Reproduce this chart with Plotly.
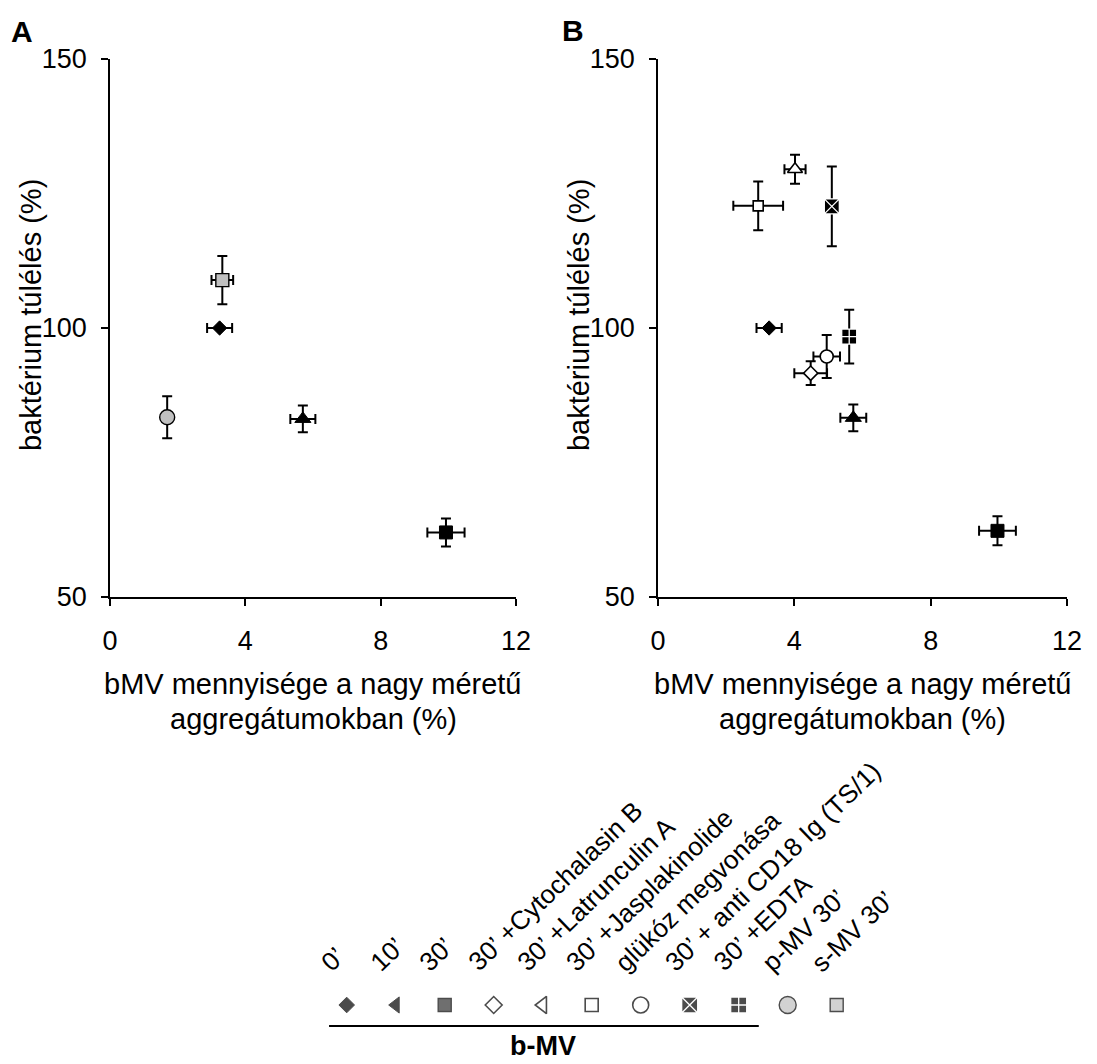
import plotly.graph_objects as go

FONT = "Liberation Sans, Arial, sans-serif"

# ---------------- data ----------------
categories = [
    "0’", "10’", "30’", "30’ +Cytochalasin B", "30’ +Latrunculin A",
    "30’ +Jasplakinolide", "glükóz megvonása", "30’ + anti CD18 Ig (TS/1)",
    "30’ +EDTA", "p-MV 30’", "s-MV 30’",
]
bmv_group = categories[:9]          # items under the "b-MV" bracket

# Panel A
a_names = ["0’", "10’", "30’", "p-MV 30’", "s-MV 30’"]
a_x = [3.24, 5.70, 9.93, 1.69, 3.32]
a_y = [100.0, 83.1, 62.0, 83.4, 108.9]
a_xerr = [0.37, 0.37, 0.55, 0.0, 0.32]
a_yerr = [0.0, 2.5, 2.6, 3.9, 4.5]

# Panel B
b_names = ["0’", "10’", "30’", "30’ +Cytochalasin B", "30’ +Latrunculin A",
           "30’ +Jasplakinolide", "glükóz megvonása", "30’ + anti CD18 Ig (TS/1)",
           "30’ +EDTA"]
b_x = [3.26, 5.73, 9.96, 4.48, 4.02, 2.94, 4.95, 5.10, 5.61]
b_y = [100.0, 83.3, 62.3, 91.6, 129.5, 122.7, 94.7, 122.6, 98.4]
b_xerr = [0.37, 0.38, 0.54, 0.48, 0.31, 0.73, 0.39, 0.0, 0.0]
b_yerr = [0.0, 2.5, 2.7, 2.2, 2.7, 4.55, 4.0, 7.4, 5.0]

x_ticks = [0, 4, 8, 12]
y_ticks = [50, 100, 150]
x_range = [0, 12]
y_range = [50, 150]

y_title = "baktérium túlélés (%)"
x_title_lines = ["bMV mennyisége a nagy méretű", "aggregátumokban (%)"]
group_label = "b-MV"
panel_labels = ["A", "B"]

# ---------------- styles ----------------
GRAY = "#c0c0c0"
chart_style = {
    "0’": dict(symbol="diamond", color="black", line="black", size=11, lw=1),
    "10’": dict(symbol="triangle-up", color="black", line="black", size=14, lw=1),
    "30’": dict(symbol="square", color="black", line="black", size=13, lw=1),
    "30’ +Cytochalasin B": dict(symbol="diamond", color="white", line="black", size=11, lw=1.6),
    "30’ +Latrunculin A": dict(symbol="triangle-up", color="white", line="black", size=13, lw=1.6),
    "30’ +Jasplakinolide": dict(symbol="square", color="white", line="black", size=10, lw=1.6),
    "glükóz megvonása": dict(symbol="circle", color="white", line="black", size=13, lw=1.6),
    "30’ + anti CD18 Ig (TS/1)": dict(symbol="square-x", color="black", line="white", size=15, lw=1.3),
    "30’ +EDTA": dict(symbol="square-cross", color="black", line="white", size=15, lw=1.3),
    "p-MV 30’": dict(symbol="circle", color=GRAY, line="black", size=15, lw=1.4),
    "s-MV 30’": dict(symbol="square", color=GRAY, line="black", size=13, lw=1.4),
}
legend_style = dict(chart_style)
legend_style["0’"] = dict(symbol="diamond", color="black", line="black", size=12, lw=1)
legend_style["10’"] = dict(symbol="triangle-left", color="black", line="black", size=14, lw=1)
legend_style["30’"] = dict(symbol="square", color="#333333", line="black", size=13, lw=1.4)
legend_style["30’ +Cytochalasin B"] = dict(symbol="diamond", color="white", line="black", size=13, lw=1.6)
legend_style["30’ +Latrunculin A"] = dict(symbol="triangle-left", color="white", line="black", size=15, lw=1.6)
legend_style["30’ +Jasplakinolide"] = dict(symbol="square", color="white", line="black", size=13, lw=1.6)
legend_style["glükóz megvonása"] = dict(symbol="circle", color="white", line="black", size=16, lw=1.6)
legend_style["30’ + anti CD18 Ig (TS/1)"] = dict(symbol="square-x", color="black", line="white", size=16, lw=1.3)
legend_style["30’ +EDTA"] = dict(symbol="square-cross", color="black", line="white", size=16, lw=1.3)
legend_style["p-MV 30’"] = dict(symbol="circle", color=GRAY, line="black", size=17, lw=1.4)
legend_style["s-MV 30’"] = dict(symbol="square", color=GRAY, line="black", size=13, lw=1.4)

W, H = 1097, 1064
def px_x(v): return v / W
def px_y(v): return 1 - v / H

fig = go.Figure()

def add_panel(names, xs, ys, xerrs, yerrs, xa, ya):
    for n, x, y, ex, ey in zip(names, xs, ys, xerrs, yerrs):
        s = chart_style[n]
        fig.add_trace(go.Scatter(
            x=[x], y=[y], mode="markers", name=n, showlegend=False,
            xaxis=xa, yaxis=ya,
            marker=dict(symbol=s["symbol"], color=s["color"], size=s["size"],
                        line=dict(color=s["line"], width=s["lw"])),
            error_x=dict(type="data", array=[ex], visible=ex > 0,
                         color="black", thickness=2, width=5),
            error_y=dict(type="data", array=[ey], visible=ey > 0,
                         color="black", thickness=2, width=5),
        ))

add_panel(a_names, a_x, a_y, a_xerr, a_yerr, "x", "y")
add_panel(b_names, b_x, b_y, b_xerr, b_yerr, "x2", "y2")

# symbol key row
fig.add_trace(go.Scatter(
    x=categories, y=[0.5] * len(categories), mode="markers", showlegend=False,
    xaxis="x3", yaxis="y3",
    marker=dict(symbol=[legend_style[c]["symbol"] for c in categories],
                color=[legend_style[c]["color"] for c in categories],
                size=[legend_style[c]["size"] for c in categories],
                line=dict(color=[legend_style[c]["line"] for c in categories],
                          width=[legend_style[c]["lw"] for c in categories])),
))

axis_common = dict(showline=True, linecolor="black", linewidth=1.5, ticks="outside",
                   ticklen=7, tickwidth=1.5, tickcolor="black", showgrid=False,
                   zeroline=False, tickfont=dict(family=FONT, size=27, color="black"),
                   fixedrange=True, automargin=False)

plot_top, plot_bot = 59, 597
a_left, a_right = 110, 516
b_left, b_right = 658, 1067

fig.update_layout(
    template="none",
    width=W, height=H, autosize=False,
    margin=dict(l=0, r=0, t=0, b=0, pad=0),
    paper_bgcolor="white", plot_bgcolor="white",
    font=dict(family=FONT, color="black"),
    xaxis=dict(domain=[px_x(a_left), px_x(a_right)], range=x_range, tickvals=x_ticks,
               anchor="y", ticklabelstandoff=12, **axis_common),
    yaxis=dict(domain=[px_y(plot_bot), px_y(plot_top)], range=y_range, tickvals=y_ticks,
               anchor="x", ticklabelstandoff=9, **axis_common),
    xaxis2=dict(domain=[px_x(b_left), px_x(b_right)], range=x_range, tickvals=x_ticks,
                anchor="y2", ticklabelstandoff=12, **axis_common),
    yaxis2=dict(domain=[px_y(plot_bot), px_y(plot_top)], range=y_range, tickvals=y_ticks,
                anchor="x2", ticklabelstandoff=9, **axis_common),
    xaxis3=dict(domain=[px_x(300), px_x(900)], range=[-0.953, 11.292], type="category",
                categoryorder="array", categoryarray=categories, visible=False,
                anchor="y3", fixedrange=True, automargin=False),
    yaxis3=dict(domain=[px_y(1020), px_y(990)], range=[0, 1], visible=False,
                anchor="x3", fixedrange=True, automargin=False),
)

annotations = []
for xa, ya in [("x", "y"), ("x2", "y2")]:
    annotations.append(dict(text=y_title, xref=f"{xa} domain", yref=f"{ya} domain",
                            x=0, y=0.524, xshift=-79, textangle=-90, showarrow=False,
                            xanchor="center", yanchor="middle",
                            font=dict(family=FONT, size=29, color="black")))
    for line, ysh in zip(x_title_lines, [-87, -122]):
        annotations.append(dict(text=line, xref=f"{xa} domain", yref=f"{ya} domain",
                                x=0.5, y=0, yshift=ysh, showarrow=False,
                                xanchor="center", yanchor="middle",
                                font=dict(family=FONT, size=29, color="black")))

for lab, (cx, cy) in zip(panel_labels, [(22, 31), (573, 30)]):
    annotations.append(dict(text=f"<b>{lab}</b>", xref="paper", yref="paper",
                            x=px_x(cx), y=px_y(cy), showarrow=False,
                            xanchor="center", yanchor="middle",
                            font=dict(family=FONT, size=30, color="black")))

for i, c in enumerate(categories):
    annotations.append(dict(text=c, xref="x3", yref="paper", x=i, y=px_y(980),
                            xshift=-34, textangle=-44, showarrow=False,
                            xanchor="left", yanchor="bottom",
                            font=dict(family=FONT, size=26, color="black")))

first, last = categories.index(bmv_group[0]), categories.index(bmv_group[-1])
annotations.append(dict(text=f"<b>{group_label}</b>", xref="x3", yref="paper",
                        x=(first + last) / 2, y=px_y(1046), showarrow=False,
                        xanchor="center", yanchor="middle",
                        font=dict(family=FONT, size=27, color="black")))
fig.update_layout(annotations=annotations)

fig.add_shape(type="line", xref="x3", yref="paper",
              x0=first - 0.36, x1=last + 0.41, y0=px_y(1026), y1=px_y(1026),
              line=dict(color="black", width=2))

fig.write_html("out.html")
